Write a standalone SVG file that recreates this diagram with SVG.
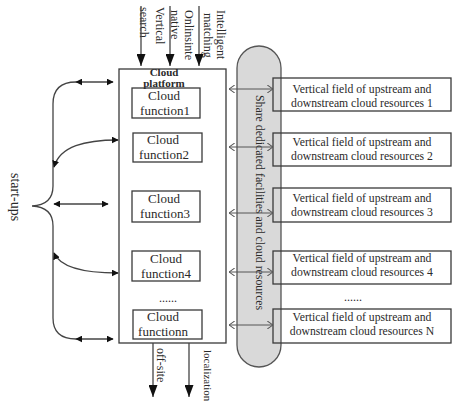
<svg xmlns="http://www.w3.org/2000/svg" width="456" height="404" viewBox="0 0 456 404">
<defs>
<style>
.t{font-family:"Liberation Serif","Times New Roman",serif;fill:#2a2a2a}
.box{fill:none;stroke:#3a3a3a;stroke-width:1.3}
.ln{fill:none;stroke:#444;stroke-width:1.3}
.thin{fill:none;stroke:#555;stroke-width:1}
</style>
<marker id="ah" viewBox="0 0 10 10" refX="9" refY="5" markerWidth="7" markerHeight="7" markerUnits="userSpaceOnUse" orient="auto-start-reverse">
<path d="M0,0 L10,5 L0,10 Z" fill="#111"/>
</marker>
<marker id="big" viewBox="0 0 10 10" refX="10" refY="5" markerWidth="12" markerHeight="9" markerUnits="userSpaceOnUse" orient="auto" preserveAspectRatio="none">
<path d="M0,0 L10,5 L0,10 Z" fill="#111"/>
</marker>
<marker id="open" viewBox="0 0 10 10" refX="9.5" refY="5" markerWidth="6" markerHeight="8" markerUnits="userSpaceOnUse" orient="auto-start-reverse" preserveAspectRatio="none">
<path d="M0,0 L9.5,5 L0,10" fill="none" stroke="#555" stroke-width="1.3"/>
</marker>
</defs>

<rect width="456" height="404" fill="#fff"/>

<g id="shared-pillar">
<rect x="237" y="46" width="44" height="321" rx="22" ry="22" fill="#d9d9d9" stroke="#555" stroke-width="1.3"/>
<text class="t" font-size="11.8" transform="translate(256,95) rotate(90)">Share dedicated facilities and cloud resources</text>
</g>

<g id="cloud-platform">
<rect class="box" x="119" y="69" width="107" height="274"/>
<text class="t" font-size="11" font-weight="bold" text-anchor="middle" x="164" y="76">Cloud</text>
<text class="t" font-size="11" font-weight="bold" text-anchor="middle" x="164" y="87">platform</text>
</g>

<g id="cf1">
<rect class="box" x="132" y="88" width="68" height="30"/>
<text class="t" font-size="13" text-anchor="middle" x="164" y="100">Cloud</text>
<text class="t" font-size="13" text-anchor="middle" x="165" y="115">function1</text>
</g>
<g id="cf2">
<rect class="box" x="133" y="133" width="69" height="29"/>
<text class="t" font-size="13" text-anchor="middle" x="163" y="144">Cloud</text>
<text class="t" font-size="13" text-anchor="middle" x="164" y="159">function2</text>
</g>
<g id="cf3">
<rect class="box" x="132" y="191" width="68" height="31"/>
<text class="t" font-size="13" text-anchor="middle" x="164" y="203">Cloud</text>
<text class="t" font-size="13" text-anchor="middle" x="165" y="218">function3</text>
</g>
<g id="cf4">
<rect class="box" x="132" y="251" width="68" height="30"/>
<text class="t" font-size="13" text-anchor="middle" x="166" y="263">Cloud</text>
<text class="t" font-size="13" text-anchor="middle" x="166" y="278">function4</text>
</g>
<g id="cf-dots">
<text class="t" font-size="12" text-anchor="middle" x="168" y="302">......</text>
</g>
<g id="cfn">
<rect class="box" x="133" y="310" width="69" height="29"/>
<text class="t" font-size="13" text-anchor="middle" x="163" y="321">Cloud</text>
<text class="t" font-size="13" text-anchor="middle" x="163" y="336">functionn</text>
</g>

<g id="vf1">
<rect class="box" x="273" y="78" width="178" height="33"/>
<text class="t" font-size="11.7" text-anchor="middle" x="362" y="93">Vertical field of upstream and</text>
<text class="t" font-size="11.7" text-anchor="middle" x="362" y="107">downstream cloud resources 1</text>
</g>
<g id="vf2">
<rect class="box" x="273" y="133" width="178" height="33"/>
<text class="t" font-size="11.7" text-anchor="middle" x="362" y="146">Vertical field of upstream and</text>
<text class="t" font-size="11.7" text-anchor="middle" x="362" y="160">downstream cloud resources 2</text>
</g>
<g id="vf3">
<rect class="box" x="273" y="188" width="178" height="34"/>
<text class="t" font-size="11.7" text-anchor="middle" x="362" y="202">Vertical field of upstream and</text>
<text class="t" font-size="11.7" text-anchor="middle" x="362" y="216">downstream cloud resources 3</text>
</g>
<g id="vf4">
<rect class="box" x="273" y="251" width="178" height="33"/>
<text class="t" font-size="11.7" text-anchor="middle" x="362" y="262">Vertical field of upstream and</text>
<text class="t" font-size="11.7" text-anchor="middle" x="362" y="276">downstream cloud resources 4</text>
</g>
<g id="vf-dots">
<text class="t" font-size="12" text-anchor="middle" x="353" y="301">......</text>
</g>
<g id="vfN">
<rect class="box" x="273" y="309" width="178" height="34"/>
<text class="t" font-size="11.7" text-anchor="middle" x="362" y="321">Vertical field of upstream and</text>
<text class="t" font-size="11.7" text-anchor="middle" x="362" y="335">downstream cloud resources N</text>
</g>

<g id="start-ups">
<path class="ln" d="M76,82 Q53,82 53,104 L53,186 Q53,205 32,206 Q53,207 53,226 L53,318 Q53,339 76,339"/>
<text class="t" font-size="14" transform="translate(11,173) rotate(90)">start-ups</text>
</g>

<g id="top-labels">
<text class="t" font-size="12" transform="translate(155.5,7) rotate(90)">Vertical</text>
<text class="t" font-size="12" transform="translate(139.5,7) rotate(90)">search</text>
<text class="t" font-size="12" transform="translate(184.5,10) rotate(90)">Onlinsinte</text>
<text class="t" font-size="12" transform="translate(170.5,10) rotate(90)">native</text>
<text class="t" font-size="12" transform="translate(216.5,10) rotate(90)">Intelligent</text>
<text class="t" font-size="12" transform="translate(203.5,13) rotate(90)">matching</text>
</g>

<g id="bottom-labels">
<text class="t" font-size="12" transform="translate(156.5,348) rotate(90)">off-site</text>
<text class="t" font-size="11" transform="translate(203.5,350) rotate(90)">localization</text>
</g>

<g id="connectors">
<line class="ln" x1="141" y1="6" x2="141" y2="66" marker-end="url(#big)"/>
<line class="ln" x1="170" y1="6" x2="170" y2="66" marker-end="url(#big)"/>
<line class="ln" x1="199" y1="6" x2="199" y2="66" marker-end="url(#big)"/>
<line class="ln" x1="153" y1="343" x2="153" y2="397" marker-end="url(#big)"/>
<line class="ln" x1="189" y1="343" x2="189" y2="397" marker-end="url(#big)"/>

<line class="ln" x1="76" y1="82" x2="113" y2="82" marker-start="url(#ah)" marker-end="url(#ah)"/>
<path class="ln" d="M54,167 C60,146 85,140 118,140" marker-start="url(#ah)" marker-end="url(#ah)"/>
<line class="ln" x1="54" y1="204" x2="108" y2="204" marker-start="url(#ah)" marker-end="url(#ah)"/>
<path class="ln" d="M54,253 C60,267 85,273 118,273" marker-start="url(#ah)" marker-end="url(#ah)"/>
<line class="ln" x1="76" y1="339" x2="113" y2="339" marker-start="url(#ah)" marker-end="url(#ah)"/>

<line class="thin" x1="229" y1="89" x2="273" y2="89" marker-start="url(#open)" marker-end="url(#open)"/>
<line class="thin" x1="229" y1="147" x2="273" y2="147" marker-start="url(#open)" marker-end="url(#open)"/>
<line class="thin" x1="229" y1="213" x2="273" y2="213" marker-start="url(#open)" marker-end="url(#open)"/>
<line class="thin" x1="229" y1="272" x2="273" y2="272" marker-start="url(#open)" marker-end="url(#open)"/>
<line class="thin" x1="229" y1="325" x2="273" y2="325" marker-start="url(#open)" marker-end="url(#open)"/>
</g>
</svg>
